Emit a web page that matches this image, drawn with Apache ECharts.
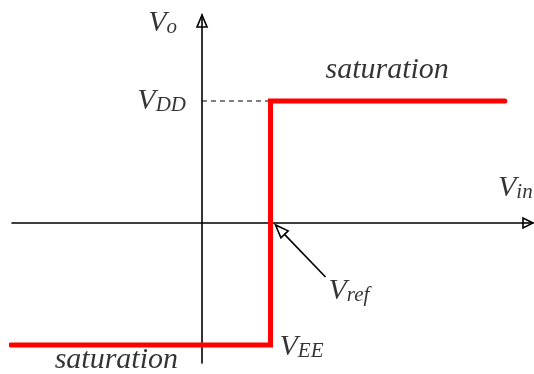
<!DOCTYPE html>
<html>
<head>
<meta charset="utf-8">
<script src="https://cdn.jsdelivr.net/npm/echarts@6/dist/echarts.min.js"></script>
<style>
  html, body { margin: 0; padding: 0; background: #fff; }
  #chart { width: 534px; height: 374px; }
</style>
</head>
<body>
<div id="chart"></div>
<script>
// Comparator transfer characteristic: output swings between the rails
// when the input crosses the reference voltage.
const transferVin = [-2.79, 1.0, 1.0, 4.42];
const transferVout = [-1.0, -1.0, 1.0, 1.0];
const VREF = 1.0;
const VDD = 1.0;
const VEE = -1.0;

// Axis extents (Vin in units of Vref, Vo in units of VDD)
const xRange = [-2.774, 4.832];
const yRange = [-1.148, 1.705];

const SERIF = '"Liberation Serif", "Times New Roman", serif';

// main letter, subscript (set a little below the baseline), plain words
const rich = {
  v: { fontFamily: SERIF, fontStyle: 'italic', fontSize: 30, color: '#000', lineHeight: 36, verticalAlign: 'bottom' },
  s: { fontFamily: SERIF, fontStyle: 'italic', fontSize: 21, color: '#000', lineHeight: 26, verticalAlign: 'bottom' },
  t: { fontFamily: SERIF, fontStyle: 'italic', fontSize: 30, color: '#000', lineHeight: 36, verticalAlign: 'bottom' }
};

function note(x, y, text, align, offset) {
  return {
    value: [x, y],
    label: {
      show: true,
      formatter: text,
      color: '#000',
      position: [0, 0],
      align: align,
      verticalAlign: 'bottom',
      offset: offset,
      rich: rich
    }
  };
}

const chart = echarts.init(document.getElementById('chart'), null, { renderer: 'canvas' });

const option = {
  animation: false,
  backgroundColor: '#fff',
  grid: { left: 12, right: 1, top: 15, bottom: 11, containLabel: false },
  xAxis: {
    type: 'value', min: xRange[0], max: xRange[1],
    axisLine: { show: true, onZero: true, lineStyle: { color: '#000', width: 1.6 } },
    axisTick: { show: false }, axisLabel: { show: false }, splitLine: { show: false }
  },
  yAxis: {
    type: 'value', min: yRange[0], max: yRange[1],
    axisLine: { show: true, onZero: true, lineStyle: { color: '#000', width: 1.6 } },
    axisTick: { show: false }, axisLabel: { show: false }, splitLine: { show: false }
  },
  series: [
    {
      // dashed guide from the Vo axis to the upper rail
      type: 'line',
      data: [[0, VDD], [VREF, VDD]],
      symbol: 'none',
      lineStyle: { color: '#000', width: 1, type: [5, 4] },
      z: 2
    },
    {
      type: 'line',
      data: transferVin.map((x, i) => [x, transferVout[i]]),
      symbol: 'none',
      clip: false,
      lineStyle: { color: '#ff0000', width: 5, cap: 'round', join: 'miter' },
      z: 3
    },
    {
      // open arrowheads on both axes and the pointer to Vref
      type: 'custom',
      data: [[0, 0]],
      clip: false,
      z: 5,
      renderItem: function (params, api) {
        const top = api.coord([0, yRange[1]]);
        const right = api.coord([xRange[1], 0]);
        const ref = api.coord([VREF, 0]);
        const stroke = { stroke: '#000', lineWidth: 1.6, fill: '#fff' };
        const tip = [ref[0] + 5, ref[1] + 2];
        const tail = [ref[0] + 55, ref[1] + 54];
        const dx = tail[0] - tip[0], dy = tail[1] - tip[1];
        const len = Math.sqrt(dx * dx + dy * dy);
        const ux = dx / len, uy = dy / len;
        const bx = tip[0] + ux * 13, by = tip[1] + uy * 13;
        return {
          type: 'group',
          children: [
            { type: 'polygon', shape: { points: [[top[0], top[1]], [top[0] - 5, top[1] + 12], [top[0] + 5, top[1] + 12]] }, style: stroke },
            { type: 'line', shape: { x1: top[0], y1: top[1] + 2, x2: top[0], y2: top[1] + 12 }, style: { stroke: '#000', lineWidth: 1.6 } },
            { type: 'polygon', shape: { points: [[right[0], right[1]], [right[0] - 10, right[1] - 5], [right[0] - 10, right[1] + 5]] }, style: stroke },
            { type: 'line', shape: { x1: right[0] - 10, y1: right[1], x2: right[0] - 2, y2: right[1] }, style: { stroke: '#000', lineWidth: 1.6 } },
            { type: 'line', shape: { x1: bx, y1: by, x2: tail[0], y2: tail[1] }, style: { stroke: '#000', lineWidth: 1.6 } },
            { type: 'polygon', shape: { points: [tip, [bx - uy * 5, by + ux * 5], [bx + uy * 5, by - ux * 5]] }, style: stroke }
          ]
        };
      }
    },
    {
      type: 'scatter',
      symbolSize: 0,
      clip: false,
      silent: true,
      z: 6,
      data: [
        note(0, yRange[1], '{v|V}{s|o}', 'right', [-25, 23]),
        note(0, VDD, '{v|V}{s|DD}', 'right', [-16, 15]),
        note(VREF, VDD, '{t|saturation}', 'left', [55, -15.5]),
        note(xRange[1], 0, '{v|V}{s|in}', 'left', [-35, -20]),
        note(VREF, 0, '{v|V}{s|ref}', 'left', [58, 83]),
        note(VREF, VEE, '{v|V}{s|EE}', 'left', [9, 17.5]),
        note(0, VEE, '{t|saturation}', 'right', [-24, 30])
      ]
    }
  ]
};

chart.setOption(option);
</script>
</body>
</html>
